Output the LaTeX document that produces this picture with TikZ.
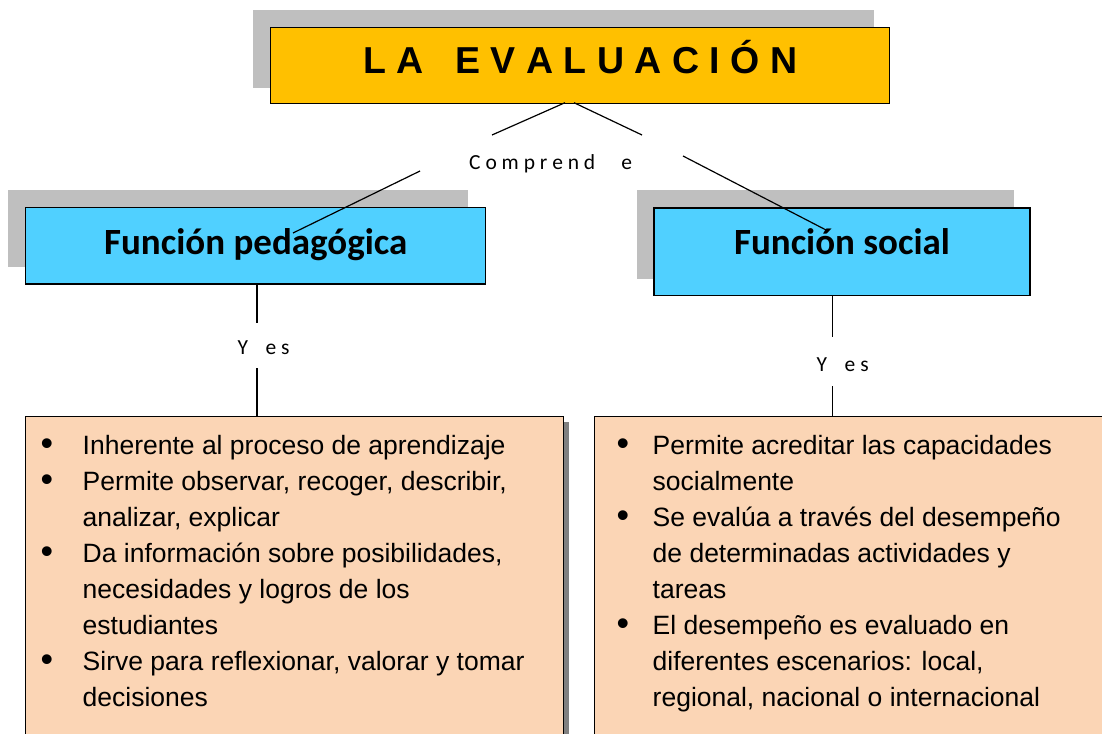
\documentclass[tikz,border=0pt]{standalone}
\usepackage{fontspec}
\setmainfont{Liberation Sans}
\newfontfamily\carlito{Carlito}
\definecolor{gold}{HTML}{FFC000}
\definecolor{skyfill}{HTML}{50D0FF}
\definecolor{peach}{HTML}{FBD5B5}
\definecolor{shadowgray}{HTML}{BFBFBF}
\definecolor{darkshadow}{HTML}{808080}
\newcommand\bigbul{\raisebox{-0.8pt}{\scalebox{1.35}{\textbullet}}}
\newcommand\bl{\makebox[42pt][l]{\bigbul}}
\newcommand\br{\makebox[36pt][l]{\bigbul}}
\newcommand\il{\hspace*{42pt}}
\newcommand\ir{\hspace*{36pt}}
\tikzset{
  mainbox/.style={draw=black, line width=1.4pt, inner sep=0pt, anchor=north west},
  conn/.style={draw=black, line width=1.2pt},
  funtext/.style={font=\carlito\bfseries\fontsize{37}{44}\selectfont},
  smalllabel/.style={font=\carlito\fontsize{21.5}{26}\selectfont, inner sep=0pt, anchor=base west},
  listtext/.style={font=\fontsize{26.5}{36}\selectfont, align=left, inner sep=0pt, anchor=north west},
}
\begin{document}
\begin{tikzpicture}[x=1pt,y=-1pt]
\useasboundingbox (0,0) rectangle (1102,733);
\clip (0,0) rectangle (1102,733);
% title
\fill[shadowgray] (253,10) rectangle (874,88);
\node[mainbox, fill=gold, minimum width=619pt, minimum height=75.7pt,
      text height=16.9pt, text depth=0pt,
      font=\bfseries\fontsize{37.5}{44}\selectfont] (title) at (270,27)
      {L A\hspace{32pt}E V A L U A C I Ó N};
% function boxes
\fill[shadowgray] (8,190) rectangle (468,267.3);
\node[mainbox, fill=skyfill, minimum width=460pt, minimum height=76.6pt,
      text height=18pt, text depth=0pt, funtext] (pfun) at (25,206.7) {Función pedagógica};
\fill[shadowgray] (637.3,190) rectangle (1014,279.3);
\node[mainbox, fill=skyfill, minimum width=376pt, minimum height=87.7pt,
      text height=5.7pt, text depth=0pt, funtext] (sfun) at (653.3,207.3) {Función social};
% labels
\node[smalllabel] (comp) at (469,169.3) {C o m p r e n d\hspace{26pt}e};
\node[smalllabel] (yesl) at (237.5,354.3) {Y\hspace{17.5pt}e s};
\node[smalllabel] (yesr) at (816.5,371.7) {Y\hspace{17.5pt}e s};
% connectors from title
\coordinate (ta) at (565,102.7);
\coordinate (tb) at (574,102.7);
\coordinate (la) at (492,135);
\coordinate (lb) at (420,171);
\coordinate (ra) at (642,135);
\coordinate (rb) at (683,156);
\coordinate (pend) at (293,233);
\coordinate (send) at (828,231);
\draw[conn] (ta) -- (la);
\draw[conn] (lb) -- (pend);
\draw[conn] (tb) -- (ra);
\draw[conn] (rb) -- (send);
% bottom boxes
\fill[darkshadow] (31,422) rectangle (569,760);
\node[mainbox, fill=peach, minimum width=538pt, minimum height=340pt] (pbox) at (25,416) {};
\node[mainbox, fill=peach, minimum width=540pt, minimum height=340pt] (sbox) at (594,416) {};
% vertical connectors
\coordinate (pv1) at (257,323);
\coordinate (pv2) at (257,368.3);
\coordinate (sv1) at (832.3,337.3);
\coordinate (sv2) at (832.3,386);
\draw[conn] (pfun.south -| pv1) -- (pv1);
\draw[conn] (pv2) -- (pbox.north -| pv2);
\draw[conn] (sfun.south -| sv1) -- (sv1);
\draw[conn] (sv2) -- (sbox.north -| sv2);
% lists
\node[listtext] (plist) at (40.5,428.8) {\strut\bl Inherente al proceso de aprendizaje\\
\bl Permite observar, recoger, describir,\\
\il analizar, explicar\\
\bl Da información sobre posibilidades,\\
\il necesidades y logros de los\\
\il estudiantes\\
\bl Sirve para reflexionar, valorar y tomar\\
\il decisiones};
\node[listtext] (slist) at (616.5,428.8) {\strut\br Permite acreditar las capacidades\\
\ir socialmente\\
\br Se evalúa a través del desempeño\\
\ir de determinadas actividades y\\
\ir tareas\\
\br El desempeño es evaluado en\\
\ir diferentes escenarios: local,\\
\ir regional, nacional o internacional};
\end{tikzpicture}
\end{document}
